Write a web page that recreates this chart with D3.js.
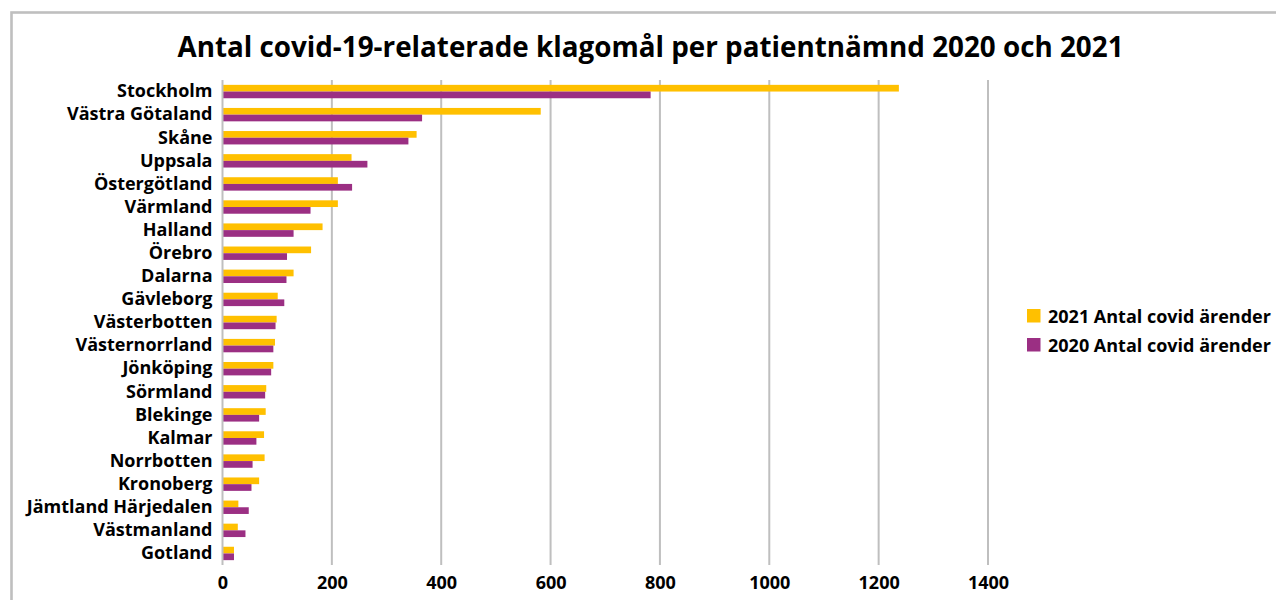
<!DOCTYPE html>
<html><head><meta charset="utf-8">
<script src="https://cdn.jsdelivr.net/npm/d3@7"></script>
<style>body{margin:0;background:#fff;} svg{display:block;}</style>
</head><body>
<svg id="chart" width="1276" height="600"></svg>
<script>
const categories = ["Stockholm","Västra Götaland","Skåne","Uppsala","Östergötland","Värmland","Halland","Örebro","Dalarna","Gävleborg","Västerbotten","Västernorrland","Jönköping","Sörmland","Blekinge","Kalmar","Norrbotten","Kronoberg","Jämtland Härjedalen","Västmanland","Gotland"];
const values2021 = [1237,582,355,236,211,211,183,162,130,101,99,96,93,80,79,76,77,67,29,28,21];
const values2020 = [783,365,340,265,237,161,130,118,117,113,97,93,89,78,67,62,55,53,48,42,21];
const seriesNames = ["2021 Antal covid ärender","2020 Antal covid ärender"];
const seriesColors = ["#FFC000","#9B2F83"];
const xTicks = [0,200,400,600,800,1000,1200,1400];
const title = "Antal covid-19-relaterade klagomål per patientnämnd 2020 och 2021";

const svg = d3.select("#chart");
const font = "'Open Sans', 'DejaVu Sans', sans-serif";

svg.append("rect").attr("x",11.5).attr("y",12.5).attr("width",1300).attr("height",620)
  .attr("fill","#fff").attr("stroke","#bfbfbf").attr("stroke-width",2.6);

const x = d3.scaleLinear().domain([0,1400]).range([222.5,988]);
const y = d3.scaleBand().domain(categories).range([80,565]).paddingInner(0.42).paddingOuter(0.21);

// gridlines
svg.append("g").selectAll("line").data(xTicks.slice(1)).join("line")
  .attr("x1",d=>x(d)).attr("x2",d=>x(d)).attr("y1",80).attr("y2",565)
  .attr("stroke","#bfbfbf").attr("stroke-width",2);

const sub = d3.scaleBand().domain([0,1]).range([0,y.bandwidth()]);
const data = [values2021, values2020];
data.forEach((vals,si)=>{
  svg.append("g").selectAll("rect").data(categories).join("rect")
    .attr("x",x(0)).attr("y",(c)=>y(c)+sub(si))
    .attr("width",(c,i)=>x(vals[i])-x(0)).attr("height",sub.bandwidth())
    .attr("fill",seriesColors[si]);
});

// axis line at 0
svg.append("line").attr("x1",x(0)).attr("x2",x(0)).attr("y1",80).attr("y2",565)
  .attr("stroke","#bfbfbf").attr("stroke-width",2);

// category labels
const yAxis = svg.append("g").attr("transform",`translate(${x(0)},0)`)
  .call(d3.axisLeft(y).tickSize(0).tickPadding(10));
yAxis.select(".domain").remove();
yAxis.selectAll("text").attr("font-family",font).attr("font-weight","bold").attr("font-size",18).attr("fill","#000");

// x tick labels
const xAxis = svg.append("g").attr("transform","translate(0,565)")
  .call(d3.axisBottom(x).tickValues(xTicks).tickSize(0).tickPadding(11).tickFormat(d3.format("d")));
xAxis.select(".domain").remove();
xAxis.selectAll("text").attr("font-family",font).attr("font-weight","bold").attr("font-size",18).attr("fill","#000");

// title
svg.append("text").attr("x",650.5).attr("y",57).attr("text-anchor","middle")
  .attr("font-family",font).attr("font-weight","bold").attr("font-size",27.8).attr("fill","#000").text(title);

// legend
const lg = svg.append("g");
seriesNames.forEach((n,i)=>{
  lg.append("rect").attr("x",1027).attr("y",309+i*29).attr("width",13.5).attr("height",13.5).attr("fill",seriesColors[i]);
  lg.append("text").attr("x",1048).attr("y",322.5+i*29).attr("font-family",font).attr("font-weight","bold")
    .attr("font-size",18).attr("fill","#000").text(n);
});
</script>
</body></html>
